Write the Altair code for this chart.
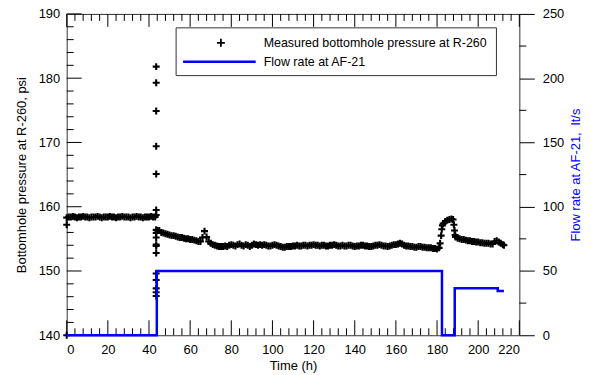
import altair as alt
import pandas as pd

# ---------------- data ----------------
# pressure, steady period 0..43 h (1 h sampling)
p_base = [158.3, 158.4, 158.4, 158.5, 158.4, 158.3, 158.4, 158.4, 158.5, 158.4,
          158.4, 158.3, 158.4, 158.4, 158.4, 158.5, 158.4, 158.3, 158.4, 158.4,
          158.4, 158.5, 158.4, 158.4, 158.3, 158.4, 158.4, 158.5, 158.4, 158.4,
          158.4, 158.3, 158.4, 158.4, 158.5, 158.4, 158.4, 158.3, 158.4, 158.4,
          158.4, 158.5, 158.4, 158.4]
t_base = list(range(0, 44))

# isolated readings
t_extra = [0, 0]
p_extra = [157.2, 140.0]

# readings at the start of pumping (~43.5 h)
p_spike = [181.8, 179.3, 174.9, 169.4, 165.1, 159.5, 158.7, 156.4, 155.9, 155.2,
           154.1, 153.9, 152.8, 149.6, 148.6, 147.3, 146.7, 146.1]
t_spike = [43.5] * len(p_spike)

# pressure during pumping 44..181 h (1 h sampling)
p_pump = [156.3, 156.3, 156.0, 155.9, 155.8, 155.7, 155.6, 155.5, 155.5, 155.4,
          155.3, 155.2, 155.2, 155.1, 155.0, 155.0, 154.9, 154.9, 154.8, 154.7,
          154.6, 154.6, 155.2, 156.2, 155.3, 154.6, 154.3, 154.1, 154.0, 153.9,
          153.8, 153.8, 153.8, 153.9, 153.8, 154.0, 154.1, 154.0, 153.9, 154.1,
          154.2, 154.0, 153.9, 154.1, 154.0, 153.8, 154.0, 154.2, 154.1, 154.0,
          154.1, 154.0, 154.1, 154.0, 153.9, 153.9, 154.0, 154.1, 154.0, 153.9,
          153.8, 153.7, 153.7, 153.8, 153.8, 153.8, 153.9, 153.9, 154.0, 153.9,
          153.9, 154.0, 154.0, 153.9, 154.0, 154.0, 154.1, 154.0, 154.0, 153.9,
          154.0, 154.0, 153.9, 153.9, 154.0, 154.0, 154.1, 154.0, 153.9, 153.9,
          154.0, 153.9, 153.9, 154.0, 154.0, 153.9, 153.8, 153.9, 153.9, 154.0,
          154.0, 153.9, 153.9, 153.8, 153.8, 153.9, 154.0, 154.0, 154.1, 154.0,
          153.9, 153.9, 153.8, 153.9, 154.0, 154.1, 154.1, 154.2, 154.3, 154.2,
          154.0, 153.9, 153.9, 153.8, 153.8, 153.7, 153.7, 153.8, 153.8, 153.7,
          153.7, 153.6, 153.6, 153.6, 153.5, 153.5, 153.4, 153.6]
t_pump = list(range(44, 182))

# shut-in and restart 181.5..212.5 h
t_late = [181.5, 182, 182.3, 182.6, 183, 184, 185, 186, 187, 187.8,
          188.2, 188.5, 188.8, 189, 190, 191, 192, 193, 194, 195,
          196, 197, 198, 199, 200, 201, 202, 203, 204, 205,
          206, 207, 208, 209, 210, 211, 212, 212.5]
p_late = [154.3, 155.5, 156.5, 157.1, 157.4, 157.7, 157.9, 158.0, 158.1, 158.0,
          157.2, 156.3, 155.6, 155.3, 155.1, 155.0, 154.9, 154.9, 154.8, 154.7,
          154.7, 154.6, 154.6, 154.5, 154.5, 154.4, 154.4, 154.3, 154.3, 154.3,
          154.2, 154.2, 154.6, 154.7, 154.5, 154.3, 154.1, 154.0]

# flow rate at AF-21 (step changes)
flow_t = [0, 43.8, 182.4, 188.6, 209.5, 212.5]
flow_q = [0, 50, 0, 36.5, 34.5, 34.5]

# tick values
x_major = [0, 20, 40, 60, 80, 100, 120, 140, 160, 180, 200, 220]
x_minor = [v for v in range(0, 221, 4) if v % 20 != 0]
y_major = [140, 150, 160, 170, 180, 190]
y_minor = [v for v in range(140, 191, 2) if v % 10 != 0]
f_major = [0, 50, 100, 150, 200, 250]
f_minor = [25, 75, 125, 175, 225]

legend_labels = ["Measured bottomhole pressure at R-260", "Flow rate at AF-21"]

# ---------------- chart ----------------
W, H = 455, 323
FONT = "Liberation Sans"

df_p = pd.DataFrame({
    "t": t_extra + t_base + t_spike + t_pump + t_late,
    "p": p_extra + p_base + p_spike + p_pump + p_late,
})
df_f = pd.DataFrame({"t": flow_t, "q": flow_q})

xs = alt.Scale(domain=[0, 220], nice=False, zero=False)
ys = alt.Scale(domain=[140, 190], nice=False, zero=False)
fs = alt.Scale(domain=[0, 250], nice=False, zero=False)

ax_x = alt.Axis(title="Time (h)", values=x_major, ticks=False, domain=False, grid=False,
                labelPadding=8, titlePadding=3, format="d")
ax_y = alt.Axis(title="Bottomhole pressure at R-260, psi", values=y_major, ticks=False,
                domain=False, grid=False, labelPadding=7, titlePadding=10, format="d")
ax_f = alt.Axis(orient="right", title="Flow rate at AF-21,\u00a0 lt/s", titleColor="#0000ff",
                titleAngle=270, titleBaseline="top",
                values=f_major, tickSize=15, tickColor="black", domain=False, grid=False,
                labelPadding=8, titlePadding=6, format="d")

PLUS = "M-1,0L1,0M0,-1L0,1"

points = alt.Chart(df_p).mark_point(
    shape=PLUS, filled=False, color="black", strokeWidth=2.1, size=49, opacity=1
).encode(
    x=alt.X("t:Q", scale=xs, axis=ax_x),
    y=alt.Y("p:Q", scale=ys, axis=ax_y),
)

def vrule_x(vals, length, top=False):
    d = pd.DataFrame({"v": vals})
    if top:
        enc = dict(y=alt.value(0), y2=alt.value(length))
    else:
        enc = dict(y=alt.value(H), y2=alt.value(H - length))
    return alt.Chart(d).mark_rule(color="black", strokeWidth=1).encode(
        x=alt.X("v:Q", scale=xs, axis=ax_x), **enc)

def hrule_y(vals, length):
    d = pd.DataFrame({"v": vals})
    return alt.Chart(d).mark_rule(color="black", strokeWidth=1).encode(
        y=alt.Y("v:Q", scale=ys, axis=ax_y), x=alt.value(0), x2=alt.value(length))

left = alt.layer(
    points,
    vrule_x(x_major, 15), vrule_x(x_minor, 7),
    vrule_x(x_major, 13, top=True), vrule_x(x_minor, 7, top=True),
    hrule_y(y_major, 15), hrule_y(y_minor, 7),
)

flow = alt.Chart(df_f).mark_line(
    interpolate="step-after", color="#0000ff", strokeWidth=2.5
).encode(
    x=alt.X("t:Q", scale=xs, axis=ax_x),
    y=alt.Y("q:Q", scale=fs, axis=ax_f),
)
f_minor_rules = alt.Chart(pd.DataFrame({"v": f_minor})).mark_rule(
    color="black", strokeWidth=1
).encode(y=alt.Y("v:Q", scale=fs, axis=ax_f), x=alt.value(W), x2=alt.value(W + 7))

right = alt.layer(flow, f_minor_rules)

one = pd.DataFrame({"a": [0]})
leg_box = alt.Chart(one).mark_rect(fill="white", stroke="#333", strokeWidth=1).encode(
    x=alt.value(110), x2=alt.value(432), y=alt.value(14), y2=alt.value(62))
leg_plus = alt.Chart(one).mark_point(
    shape=PLUS, filled=False, color="black", strokeWidth=1.8, size=64, opacity=1
).encode(x=alt.value(155), y=alt.value(29))
leg_line = alt.Chart(one).mark_rule(color="#0000ff", strokeWidth=2.5).encode(
    x=alt.value(117), x2=alt.value(190), y=alt.value(48))
leg_txt1 = alt.Chart(one).mark_text(
    align="left", baseline="middle", font=FONT, fontSize=12.5, color="black"
).encode(x=alt.value(198), y=alt.value(29), text=alt.value(legend_labels[0]))
leg_txt2 = alt.Chart(one).mark_text(
    align="left", baseline="middle", font=FONT, fontSize=12.5, color="black"
).encode(x=alt.value(198), y=alt.value(48), text=alt.value(legend_labels[1]))

chart = alt.layer(
    left, right, leg_box, leg_plus, leg_line, leg_txt1, leg_txt2
).resolve_scale(y="independent").properties(
    width=W, height=H,
    autosize=alt.AutoSizeParams(type="none"),
    padding={"left": 59, "top": 5, "right": 64, "bottom": 39},
).configure_view(
    stroke="#333", strokeWidth=1
).configure_axis(
    labelFont=FONT, titleFont=FONT, labelFontSize=13, titleFontSize=13,
    labelColor="black", titleColor="black", titleFontWeight="normal"
)

chart.save("out.html", embed_options={"renderer": "svg", "actions": False})
